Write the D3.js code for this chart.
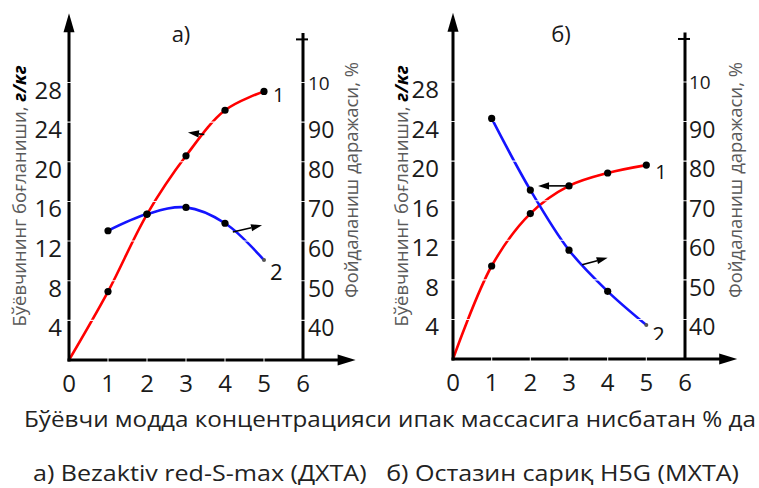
<!DOCTYPE html>
<html><head><meta charset="utf-8">
<script src="https://cdn.jsdelivr.net/npm/d3@7"></script>
<style>body{margin:0;background:#fff}svg{display:block;font-family:"Open Sans",sans-serif}</style>
</head><body><svg id="c" width="759" height="488"></svg>
<script>
// ---- data ----
const xCats = [0, 1, 2, 3, 4, 5];
const xTickVals = [0, 1, 2, 3, 4, 5, 6];
const leftTickVals = [4, 8, 12, 16, 20, 24, 28];
const rightTickVals = [40, 50, 60, 70, 80, 90, 100];
const rightTickLabels = ["40", "50", "60", "70", "80", "90", "10"];
const redA = [0, 6.9, 14.7, 20.6, 25.2, 27.1];      // г/кг (left axis)
const blueX = [1, 2, 3, 4, 5];
const blueA = [62.6, 66.8, 68.5, 64.5, 55.2];       // % (right axis)
const redB = [0, 9.4, 14.7, 17.5, 18.8, 19.6];
const blueB = [90.8, 72.7, 57.5, 47.1, 38.6];
const panelTitles = ["а)", "б)"];
const leftAxisTitle = ["Бўёвчининг боғланиши, ", "г/кг"];
const rightAxisTitle = "Фойдаланиш даражаси, %";
const xAxisTitle = "Бўёвчи модда концентрацияси ипак массасига нисбатан % да";
const caption = "а) Bezaktiv red-S-max (ДХТА)   б) Остазин сариқ H5G (МХТА)";
const curveLabels = ["1", "2"];
// arrow annotations: [xFrom, yFrom, xTo, yTo, axis]
const arrowsA = [[3.47, 22.75, 3.05, 22.95, "L"], [4.2, 62.3, 4.95, 64.0, "R"]];
const arrowsB = [[2.97, 17.5, 2.2, 17.5, "L"], [3.34, 53.8, 4.0, 55.6, "R"]];

// ---- layout ----
const panels = [
  {x0: 69, x6: 303, y0: 360, y28: 82.5, yTitleX: 26, rTitleX: 358, gapL: 7, titleX: 181,
   red: redA, blue: blueA, arrows: arrowsA, title: panelTitles[0]},
  {x0: 453, x6: 685, y0: 359, y28: 82, yTitleX: 408, rTitleX: 742, gapL: 14, titleX: 561,
   red: redB, blue: blueB, arrows: arrowsB, title: panelTitles[1]}
];

const svg = d3.select("#c");
const defs = svg.append("defs");

panels.forEach((p, pi) => {
  const g = svg.append("g");
  const x = d3.scaleLinear().domain([0, 6]).range([p.x0, p.x6]);
  const yL = d3.scaleLinear().domain([0, 28]).range([p.y0, p.y28]);
  const yR = d3.scaleLinear().domain([30, 100]).range([p.y0, p.y28]);
  const line = (ys) => d3.line().x(d => x(d[0])).y(d => ys(d[1])).curve(d3.curveCatmullRom.alpha(0.5));

  const redPts = xCats.map((c, i) => [c, p.red[i]]);
  const bluePts = blueX.map((c, i) => [c, p.blue[i]]);

  // curves
  g.append("path").datum(redPts).attr("d", line(yL)).attr("fill", "none")
    .attr("stroke", "#ff0000").attr("stroke-width", 2.6);
  g.append("path").datum(bluePts).attr("d", line(yR)).attr("fill", "none")
    .attr("stroke", "#1414ff").attr("stroke-width", 2.6);

  // axes
  const ax = g.append("g").attr("stroke", "#000").attr("stroke-width", 3).attr("fill", "none");
  const yTop = yL(35), xEnd = x(7.35);
  ax.append("line").attr("x1", x(0)).attr("x2", x(0)).attr("y1", p.y0 + 1.5).attr("y2", yTop + 15);
  ax.append("line").attr("x1", x(0) - 1.5).attr("x2", xEnd - 14).attr("y1", p.y0).attr("y2", p.y0);
  ax.append("line").attr("x1", x(6)).attr("x2", x(6)).attr("y1", p.y0).attr("y2", yL(33));
  ax.append("line").attr("x1", x(6) - 7).attr("x2", x(6) + 5).attr("y1", yL(32.35)).attr("y2", yL(32.35)).attr("stroke-width", 2);
  g.append("path").attr("d", `M${x(0)},${yTop} L${x(0) - 5.5},${yTop + 19} L${x(0) + 5.5},${yTop + 19}Z`).attr("fill", "#000");
  g.append("path").attr("d", `M${xEnd},${p.y0} L${xEnd - 18},${p.y0 - 5.5} L${xEnd - 18},${p.y0 + 5.5}Z`).attr("fill", "#000");

  // white grid marks (cut through axes and curves)
  const wg = g.append("g").attr("stroke", "#fff").attr("stroke-width", 1.1).attr("opacity", 0.9);
  leftTickVals.forEach(v => {
    wg.append("line").attr("x1", x(0) - 2.5).attr("x2", x(6) + 2.5).attr("y1", yL(v)).attr("y2", yL(v));
  });
  xTickVals.slice(1, 6).forEach(v => {
    wg.append("line").attr("x1", x(v)).attr("x2", x(v)).attr("y1", p.y0 - 2.5).attr("y2", p.y0 + 2.5);
  });

  // dots
  g.selectAll(".rd").data(redPts.slice(1)).enter().append("circle")
    .attr("cx", d => x(d[0])).attr("cy", d => yL(d[1])).attr("r", 3.6).attr("fill", "#000");
  g.selectAll(".bd").data(bluePts).enter().append("circle")
    .attr("cx", d => x(d[0])).attr("cy", d => yR(d[1]))
    .attr("r", (d, i) => i === bluePts.length - 1 ? 2 : 3.6)
    .attr("fill", (d, i) => i === bluePts.length - 1 ? "#555" : "#000");

  // arrows
  p.arrows.forEach(a => {
    const ys = a[4] === "L" ? yL : yR;
    const x1 = x(a[0]), y1 = ys(a[1]), x2 = x(a[2]), y2 = ys(a[3]);
    const ang = Math.atan2(y2 - y1, x2 - x1), L = 11, W = 3.6;
    const bx = x2 - L * Math.cos(ang), by = y2 - L * Math.sin(ang);
    g.append("line").attr("x1", x1).attr("y1", y1).attr("x2", bx).attr("y2", by)
      .attr("stroke", "#000").attr("stroke-width", 1.6);
    g.append("path").attr("d",
      `M${x2},${y2} L${bx - W * Math.sin(ang)},${by + W * Math.cos(ang)} L${bx + W * Math.sin(ang)},${by - W * Math.cos(ang)}Z`)
      .attr("fill", "#000");
  });

  // curve labels
  const lastR = redPts[redPts.length - 1], lastB = bluePts[bluePts.length - 1];
  g.append("text").attr("x", x(lastR[0]) + 9).attr("y", yL(lastR[1]) + (pi === 0 ? 11 : 14))
    .attr("font-size", 20).attr("fill", "#111").text(curveLabels[0]);
  if (pi === 1) {
    defs.append("clipPath").attr("id", "clip2").append("rect").attr("x", 600).attr("y", 300).attr("width", 100).attr("height", 40);
  }
  g.append("text").attr("x", x(lastB[0]) + 6).attr("y", yR(lastB[1]) + (pi === 0 ? 20 : 18))
    .attr("font-size", 22).attr("fill", "#111")
    .attr("clip-path", pi === 1 ? "url(#clip2)" : null).text(curveLabels[1]);

  // tick labels
  g.selectAll(".yl").data(leftTickVals).enter().append("text")
    .attr("x", x(0) - p.gapL).attr("y", d => yL(d) + 16).attr("text-anchor", "end")
    .attr("font-size", 24).attr("fill", "#1a1a1a").text(d => d);
  g.selectAll(".yr").data(rightTickVals).enter().append("text")
    .attr("x", x(6) + (pi === 0 ? 5 : 4))
    .attr("y", (d, i) => i === rightTickVals.length - 1 ? yR(d) + 7 : yR(d) + 16)
    .attr("font-size", (d, i) => i === rightTickVals.length - 1 ? 19 : 23)
    .attr("fill", "#1a1a1a").text((d, i) => rightTickLabels[i]);
  g.selectAll(".xl").data(xTickVals).enter().append("text")
    .attr("x", d => x(d)).attr("y", p.y0 + 32).attr("text-anchor", "middle")
    .attr("font-size", 24).attr("fill", "#1a1a1a").text(d => d);

  // panel title
  g.append("text").attr("x", p.titleX).attr("y", 42).attr("text-anchor", "middle")
    .attr("font-size", 22).attr("fill", "#1a1a1a").text(p.title);

  // axis titles
  const t1 = g.append("text").attr("transform", `translate(${p.yTitleX},${196}) rotate(-90)`)
    .attr("text-anchor", "middle").attr("font-size", 18.5);
  t1.append("tspan").attr("fill", "#5a5a5a").text(leftAxisTitle[0]);
  t1.append("tspan").attr("fill", "#000").attr("font-weight", "bold").attr("font-style", "italic").text(leftAxisTitle[1]);
  g.append("text").attr("transform", `translate(${p.rTitleX},${180}) rotate(-90)`)
    .attr("text-anchor", "middle").attr("font-size", 18.5).attr("fill", "#5a5a5a").text(rightAxisTitle);
});

svg.append("text").attr("x", 24).attr("y", 427)
  .attr("font-size", 22).attr("fill", "#222")
  .attr("textLength", 732).attr("lengthAdjust", "spacingAndGlyphs").text(xAxisTitle);
svg.append("text").attr("x", 33).attr("y", 481)
  .attr("font-size", 21.5).attr("fill", "#222").style("white-space", "pre")
  .attr("textLength", 706).attr("lengthAdjust", "spacingAndGlyphs").text(caption);
</script></body></html>
